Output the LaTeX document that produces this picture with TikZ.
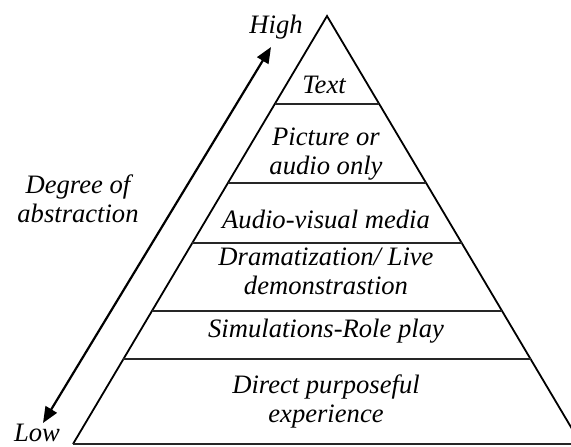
\documentclass[tikz,border=0pt]{standalone}
\usepackage{fontspec}
\setmainfont{Liberation Serif}
\usetikzlibrary{calc,arrows.meta}
\begin{document}
\begin{tikzpicture}[x=0.5pt,y=-0.5pt,
  lbl/.style={font=\fontsize{13.3}{14.5}\selectfont\itshape, inner sep=0pt, align=center, anchor=base},
  edge/.style={line width=0.9pt, black},
  layer/.style={line width=0.9pt, black!85},
  axis/.style={line width=1.1pt, black, {Triangle[length=8pt,width=6.5pt]}-{Triangle[length=8pt,width=6.5pt]}}]
\useasboundingbox (0,0) rectangle (571,446);
\clip (0,0) rectangle (571,446);
\coordinate (apex) at (327,16);
\coordinate (bl) at (73,444);
\coordinate (br) at (581,444);
\draw[edge] (bl) -- (apex) -- (br);
\draw[layer] (bl) -- (br);
% layer separators
\foreach \yy/\nm in {104/l1,183/l2,243/l3,311/l4,359/l5}{
  \pgfmathsetmacro{\tt}{(\yy-16)/428}
  \coordinate (\nm a) at ($(apex)!\tt!(bl)$);
  \coordinate (\nm b) at ($(apex)!\tt!(br)$);
  \draw[layer] (\nm a) -- (\nm b);
}
% arrow
\coordinate (atop) at (271,47);
\coordinate (abot) at (43,423);
\draw[axis] (abot) -- (atop);
% labels (base anchor of a two-line label is the baseline of its last line)
\node[lbl] (high) at (276,33) {High};
\node[lbl] (low) at (37,441) {Low};
\node[lbl] (deg) at (78,222) {Degree of\\abstraction};
\node[lbl] (t1) at (324,93) {Text};
\node[lbl] (t2) at (326,174) {Picture or\\audio only};
\node[lbl] (t3) at (326,228) {Audio-visual media};
\node[lbl] (t4) at (326,294) {Dramatization/ Live\\demonstrastion};
\node[lbl] (t5) at (326,337) {Simulations-Role play};
\node[lbl] (t6) at (326,422) {Direct purposeful\\experience};
\end{tikzpicture}
\end{document}
